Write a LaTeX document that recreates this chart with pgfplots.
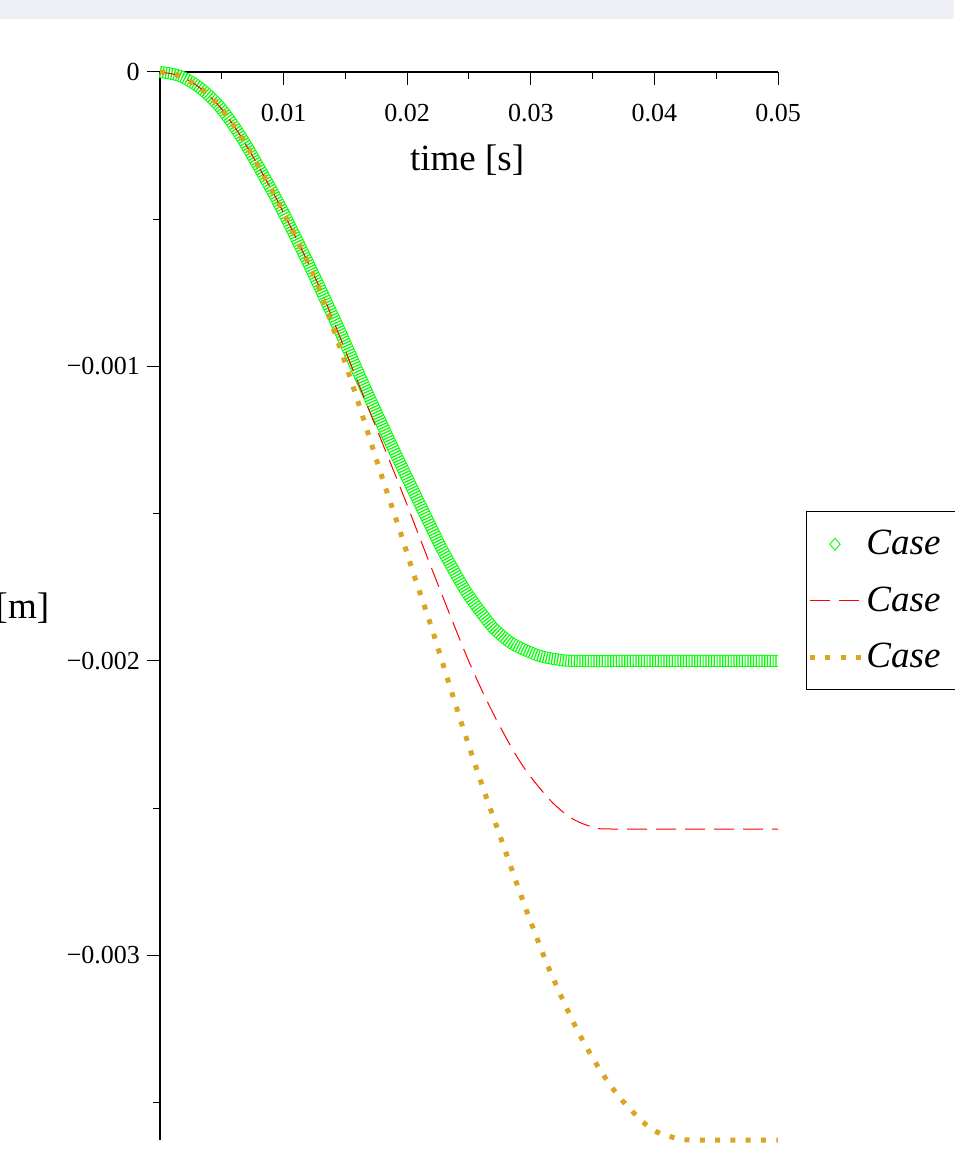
\documentclass[border=0pt]{standalone}
\usepackage{fontspec}
\setmainfont{Liberation Serif}
\usepackage{pgfplots}
\usepackage{pgfplotstable}
\pgfplotsset{compat=1.18}
\definecolor{casegreen}{RGB}{0,255,0}
\definecolor{casered}{RGB}{255,0,0}
\definecolor{casegold}{RGB}{218,165,32}
\definecolor{topband}{RGB}{239,240,245}

% displacement curves (t in s, y in m)
\pgfplotstableread{
t y
0 0
0.00162 -0.0000136
0.00324 -0.0000543
0.00485 -0.000119
0.00672 -0.000231
0.00947 -0.000435
0.01214 -0.000662
0.01351 -0.000785
0.01456 -0.000880
0.01675 -0.001087
0.01942 -0.001328
0.02209 -0.001559
0.02290 -0.001627
0.02484 -0.001769
0.02670 -0.001875
0.02751 -0.001909
0.02856 -0.001943
0.03050 -0.001980
0.03196 -0.001994
0.03358 -0.002000
0.04000 -0.002000
0.05000 -0.002000
}\greendata

\pgfplotstableread{
t y
0 0
0.00162 -0.0000136
0.00324 -0.0000543
0.00485 -0.000119
0.00672 -0.000231
0.00947 -0.000435
0.01214 -0.000662
0.01351 -0.000791
0.01675 -0.001131
0.01942 -0.001409
0.02209 -0.001698
0.02484 -0.001987
0.02670 -0.002157
0.02856 -0.002303
0.02994 -0.002391
0.03180 -0.002483
0.03341 -0.002537
0.03503 -0.002564
0.03681 -0.002571
0.05000 -0.002571
}\reddata

\pgfplotstableread{
t y
0 0
0.00162 -0.0000136
0.00324 -0.0000543
0.00485 -0.000119
0.00672 -0.000231
0.00947 -0.000435
0.01214 -0.000662
0.01335 -0.000791
0.01537 -0.001036
0.01675 -0.001216
0.01804 -0.001386
0.01942 -0.001559
0.02047 -0.001698
0.02185 -0.001871
0.02322 -0.002055
0.02452 -0.002228
0.02589 -0.002401
0.02694 -0.002527
0.02791 -0.002642
0.02888 -0.002758
0.02994 -0.002880
0.03099 -0.002995
0.03155 -0.003053
0.03293 -0.003182
0.03414 -0.003284
0.03560 -0.003389
0.03722 -0.003484
0.03908 -0.003566
0.04021 -0.003600
0.04142 -0.003617
0.04288 -0.003627
0.05000 -0.003627
}\golddata

\begin{document}
\begin{tikzpicture}
\useasboundingbox (-80pt,-11pt) rectangle (397pt,570pt);
\fill[topband] (-80pt,560.5pt) rectangle (397pt,570pt);
\begin{axis}[
  at={(0pt,0pt)}, anchor=south west,
  scale only axis, width=309pt, height=534pt,
  xmin=0, xmax=0.05, ymin=-0.003627, ymax=0,
  axis lines=middle, axis line style={-, line width=0.8pt},
  tick align=outside,
  major tick length=6.5pt, minor tick length=3.5pt,
  tick style={black, line width=0.5pt},
  xtick={0.01,0.02,0.03,0.04,0.05},
  xticklabels={0.01,0.02,0.03,0.04,0.05},
  minor xtick={0.005,0.015,0.025,0.035,0.045},
  ytick={-0.003,-0.002,-0.001,0},
  yticklabels={−0.003,−0.002,−0.001,0},
  minor ytick={-0.0035,-0.0025,-0.0015,-0.0005},
  scaled ticks=false,
  tick label style={font=\fontsize{13}{15}\selectfont},
  xticklabel style={yshift=-6pt},
  every axis x label/.style={at={(axis description cs:0.497,0.9176)}, anchor=center},
  every axis y label/.style={at={(axis description cs:-0.168,0.498)}, anchor=east},
  label style={font=\fontsize{18.5}{22}\selectfont},
  xlabel={time [s]}, ylabel={[m]},
  clip=false,
  legend style={at={(axis description cs:1.0453,0.589)}, anchor=north west,
    draw=black, line width=0.5pt, font=\fontsize{18.5}{22}\selectfont\itshape,
    inner xsep=0.5pt, inner ysep=8pt, row sep=11.5pt,
    nodes={inner sep=1.5pt, text depth=0.15em}, cells={anchor=west}},
  legend image code/.code={\draw[#1] (0pt,0pt) -- (25.5pt,0pt);},
]
% case 1: a dense chain of open diamonds, drawn as a hatched band
\addlegendimage{legend image code/.code={\draw[casegreen, line width=0.45pt] (12.5pt,0pt) +(-2.6pt,0pt) -- +(0pt,3pt) -- +(2.6pt,0pt) -- +(0pt,-3pt) -- cycle;}}
\addlegendentry{Case\hspace*{40pt}}
\addplot[forget plot, casegreen, line width=0.5pt, double=white, double distance=5pt, smooth] table {\greendata};
\addplot[forget plot, casegreen, line width=5.5pt, dash pattern=on 0.6pt off 0.8pt, smooth] table {\greendata};
\addplot[casered, line width=0.5pt, dash pattern=on 10pt off 4.5pt, smooth] table {\reddata};
\addlegendentry{Case\hspace*{40pt}}
\addplot[casegold, line width=2.5pt, dash pattern=on 2.5pt off 5.15pt, smooth] table {\golddata};
\addlegendentry{Case\hspace*{40pt}}
% tick and label at the origin, which middle axis lines leave out
\draw[line width=0.5pt] (axis cs:0,0) -- ++(-6.5pt,0pt);
\node[anchor=east, inner sep=0pt, xshift=-10pt, font=\fontsize{13}{15}\selectfont] at (axis cs:0,0) {0};
\end{axis}
\end{tikzpicture}
\end{document}
